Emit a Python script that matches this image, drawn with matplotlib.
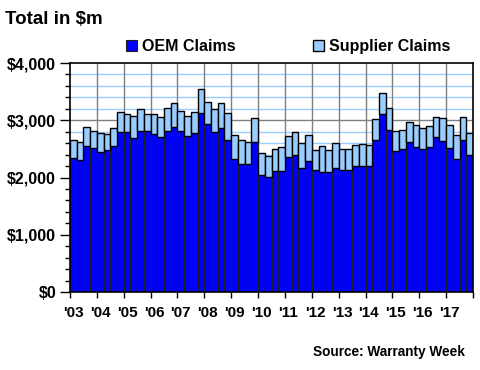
import matplotlib
matplotlib.use('Agg')
import matplotlib.pyplot as plt
from matplotlib.ticker import MultipleLocator, FuncFormatter
import numpy as np

# Datos trimestrales 2003 Q1 - 2017 Q4, en millones de dolares
anios = ["'03", "'04", "'05", "'06", "'07", "'08", "'09", "'10",
         "'11", "'12", "'13", "'14", "'15", "'16", "'17"]

oem = [2335, 2300, 2544, 2509, 2440, 2474, 2544, 2789,
       2789, 2684, 2806, 2806, 2754, 2702, 2806, 2876,
       2806, 2719, 2771, 3121, 2929, 2789, 2859, 2649,
       2317, 2230, 2230, 2626, 2038, 2003, 2108, 2108,
       2352, 2393, 2160, 2282, 2125, 2102, 2090, 2160,
       2125, 2125, 2195, 2195, 2195, 2649, 3103, 2824,
       2457, 2492, 2626, 2527, 2492, 2527, 2702, 2632,
       2509, 2317, 2649, 2387]

total = [2649, 2626, 2876, 2818, 2771, 2754, 2859, 3150,
         3115, 3068, 3191, 3115, 3115, 3051, 3208, 3295,
         3156, 3068, 3138, 3540, 3313, 3191, 3295, 3121,
         2737, 2649, 2626, 3034, 2422, 2370, 2492, 2527,
         2719, 2789, 2597, 2737, 2474, 2544, 2474, 2597,
         2492, 2492, 2562, 2579, 2562, 3016, 3470, 3208,
         2806, 2824, 2964, 2911, 2859, 2894, 3051, 3034,
         2911, 2737, 3051, 2771]

proveedor = [t - o for t, o in zip(total, oem)]

AZUL = '#0000FF'
CELESTE = '#99CCFF'
plt.rcParams['font.family'] = ['Liberation Sans', 'DejaVu Sans']
plt.rcParams['font.weight'] = 'bold'

fig = plt.figure(figsize=(4.8, 3.7), dpi=100)
ax = fig.add_axes([70 / 480, 1 - 292 / 370, 403 / 480, 229 / 370])

x = np.arange(len(oem))
b1 = ax.bar(x, oem, width=1.0, color=AZUL, edgecolor='#202020', linewidth=0.8,
            label='OEM Claims', zorder=3)
b2 = ax.bar(x, proveedor, width=1.0, bottom=oem, color=CELESTE, edgecolor='black',
            linewidth=1.0, label='Supplier Claims', zorder=3)

ax.set_xlim(-0.5, len(oem) - 0.5)
ax.set_ylim(0, 4000)

# Rejilla horizontal cada $200, gris en los miles
for v in range(200, 4000, 200):
    ax.axhline(v, color='#808080' if v % 1000 == 0 else CELESTE, lw=1.0, zorder=1)
# Rejilla vertical en los cambios de anio
for k in range(1, len(anios)):
    ax.axvline(4 * k - 0.5, color='#808080', lw=1.0, zorder=1)

ax.yaxis.set_major_locator(MultipleLocator(1000))
ax.yaxis.set_minor_locator(MultipleLocator(200))
ax.yaxis.set_major_formatter(FuncFormatter(lambda v, p: '${:,.0f}'.format(v)))
ax.tick_params(axis='y', which='major', length=7.5, width=1.0, pad=2.5, labelsize=11.5)
ax.tick_params(axis='y', which='minor', length=3.8, width=1.0)

ax.set_xticks([4 * k - 0.5 for k in range(len(anios) + 1)])
ax.set_xticklabels([])
ax.set_xticks([4 * k for k in range(len(anios))], minor=True)
ax.set_xticklabels(anios, minor=True)
ax.tick_params(axis='x', which='major', length=4, width=1.0)
ax.tick_params(axis='x', which='minor', length=0, pad=10, labelsize=11)

for s in ax.spines.values():
    s.set_linewidth(1.2)
    s.set_zorder(5)

ax.legend(handles=[b1, b2], ncol=2, loc='center left', bbox_to_anchor=(0.139, 1.07),
          frameon=False, fontsize=11.5, handlelength=0.69, handleheight=0.69,
          handletextpad=0.28, columnspacing=4.9, borderpad=0, borderaxespad=0)

fig.text(5 / 480, 1 - 20 / 370, 'Total in $m', fontsize=13.5, fontweight='bold',
         ha='left', va='center')
fig.text(465 / 480, 1 - 352 / 370, 'Source: Warranty Week', fontsize=9.8,
         fontweight='bold', ha='right', va='center')

plt.savefig('out.png', dpi=100)
plt.close()
